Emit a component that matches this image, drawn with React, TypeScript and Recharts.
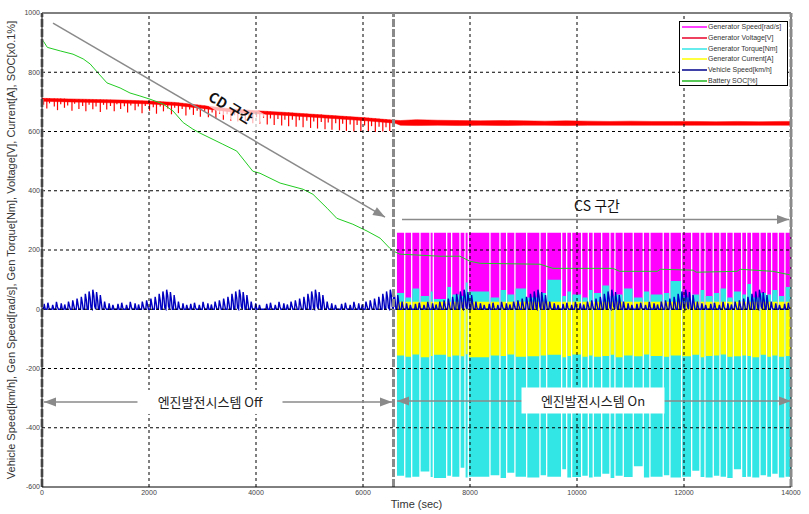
import React from 'react';
import { ComposedChart, Area, Line, Scatter, ErrorBar, XAxis, YAxis, ReferenceLine, ReferenceDot } from 'recharts';

// ---------- axis ticks ----------
const xTicks = [0, 2000, 4000, 6000, 8000, 10000, 12000, 14000];
const yTicks = [-600, -400, -200, 0, 200, 400, 600, 800, 1000];
const gridX = [2000, 4000, 6000, 8000, 10000, 12000];
const gridY = [-400, -200, 0, 200, 400, 600, 800];

// ---------- battery SOC [x0.1%] (time, value) ----------
const socPoints = [
  [0, 912], [100, 884], [340, 872], [580, 861], [770, 845], [900, 828], [1050, 797], [1215, 764],
  [1460, 747], [1645, 730], [1830, 720], [2020, 709], [2260, 693], [2450, 669], [2640, 630],
  [2820, 608], [2950, 595], [3380, 557], [3640, 534], [3940, 466], [4075, 459], [4450, 426],
  [4880, 405], [5065, 388], [5330, 341], [5510, 307], [5810, 287], [6075, 264], [6320, 240],
  [6500, 206], [6570, 196], [6690, 186], [7440, 179], [7810, 179], [8000, 162], [8190, 155],
  [9310, 152], [9550, 138], [10670, 138], [10800, 128], [11500, 128], [11560, 135], [12170, 132],
  [12230, 125], [12990, 128], [13050, 135], [13660, 128], [13930, 118], [14000, 116],
];

// ---------- generator voltage: solid band (time, upper, lower) ----------
const voltageBand = [
  [0, 712, 702], [500, 710, 700], [1000, 708, 698], [1500, 706, 696], [2000, 703, 693], [2500, 698, 688],
  [3000, 688, 678], [3500, 677, 667], [4000, 670, 660], [4500, 665, 655], [5000, 659, 649], [5500, 653, 643],
  [6000, 647, 637], [6600, 638, 628],
  [6700, 637, 621], [7000, 640, 620], [7400, 638, 621], [7800, 637, 620], [8200, 636, 621], [8600, 637, 620],
  [9000, 636, 621], [9400, 635, 621], [9800, 636, 620], [10200, 635, 621], [10600, 634, 621], [11000, 635, 621],
  [11400, 634, 621], [11800, 634, 621], [12200, 634, 621], [12600, 633, 621], [13000, 634, 621], [13400, 633, 621],
  [13800, 634, 621], [14000, 634, 621],
];
// ---------- generator voltage: downward spikes in CD zone (time, top, low) ----------
const voltageSpikes = [
  [30, 712, 690], [90, 712, 678], [140, 712, 695], [230, 711, 684], [290, 711, 672], [350, 711, 692],
  [420, 711, 680], [480, 710, 688], [560, 710, 670], [610, 710, 694], [690, 710, 676], [760, 709, 686],
  [820, 709, 668], [880, 709, 690], [950, 708, 675], [1010, 708, 684], [1090, 708, 666], [1150, 707, 690],
  [1210, 707, 674], [1280, 707, 686], [1350, 706, 668], [1400, 706, 692], [1470, 706, 676], [1540, 705, 685],
  [1600, 705, 664], [1660, 705, 688], [1740, 704, 672], [1800, 704, 684], [1870, 704, 662], [1930, 703, 686],
  [2010, 703, 670], [2080, 702, 682], [2140, 702, 660], [2210, 701, 684], [2270, 700, 668], [2350, 700, 678],
  [2420, 699, 658], [2480, 698, 680], [2550, 697, 662], [2620, 696, 676], [2690, 694, 654], [2760, 693, 674],
  [2830, 691, 656], [2900, 690, 670], [2960, 689, 650], [3040, 687, 668], [3110, 685, 648], [3180, 683, 664],
  [3250, 682, 644], [3320, 680, 660], [3390, 678, 640], [3460, 677, 658], [3530, 676, 636], [3600, 675, 655],
  [3660, 674, 634], [3740, 673, 652], [3800, 672, 630], [3870, 671, 650], [3940, 670, 628], [4010, 670, 648],
  [4070, 669, 626], [4140, 668, 646], [4210, 668, 624], [4270, 667, 644], [4340, 666, 622], [4410, 666, 642],
  [4480, 665, 620], [4540, 664, 640], [4610, 664, 618], [4680, 663, 640], [4750, 662, 616], [4810, 661, 638],
  [4880, 660, 614], [4950, 660, 636], [5020, 659, 612], [5080, 658, 634], [5150, 657, 610], [5220, 657, 632],
  [5290, 656, 608], [5350, 655, 630], [5420, 654, 606], [5490, 653, 628], [5560, 652, 604], [5620, 652, 626],
  [5690, 651, 602], [5760, 650, 624], [5830, 649, 600], [5890, 648, 622], [5960, 647, 600], [6030, 647, 620],
  [6100, 646, 598], [6160, 645, 618], [6230, 644, 598], [6300, 643, 616], [6370, 642, 600], [6430, 641, 614],
  [6500, 640, 602],
];

// ---------- vehicle speed: one repeated driving cycle (offset s, km/h) ----------
const cycleProfile = [
  [0, 0], [25, 0], [40, 18], [60, 0], [95, 0], [110, 22], [130, 5], [145, 0], [185, 0], [200, 15], [220, 0],
  [255, 0], [270, 25], [290, 8], [305, 0], [345, 0], [360, 20], [380, 0], [410, 0], [425, 16], [445, 0],
  [480, 0], [495, 26], [515, 10], [530, 0], [560, 0], [575, 30], [595, 12], [610, 0], [640, 0], [655, 36],
  [675, 15], [690, 0], [720, 0], [735, 42], [755, 20], [770, 0], [795, 0], [810, 52], [830, 30], [845, 0],
  [865, 0], [880, 60], [900, 38], [915, 5], [935, 0], [950, 66], [970, 45], [985, 10], [1005, 0], [1020, 58],
  [1040, 30], [1055, 0], [1075, 0], [1090, 48], [1110, 20], [1125, 0], [1155, 0], [1170, 26], [1190, 5],
  [1205, 0], [1240, 0], [1255, 20], [1275, 0], [1310, 0], [1325, 15], [1345, 0], [1379, 0],
];
const cycleStarts = [0, 1380, 2740, 4160, 5560, 6940, 8320, 9700, 11080, 12460, 13840];

// ---------- CS zone (engine generator on) ----------
const csStart = 6635;
const csEnd = 14000;
const engineOffTimes = [
  6780, 6910, 7065, 7252, 7314, 7564, 7657, 7813, 7906, 7968, 8373, 8560, 8685, 8840, 9059, 9308,
  9433, 9713, 9807, 9900, 10087, 10212, 10304, 10461, 10616, 10709, 10865, 11052, 11239, 11363, 11612,
  11737, 11955, 12143, 12298, 12392, 12547, 12672, 12797, 12921, 13077, 13171, 13264, 13419, 13544,
  13638, 13762, 13887,
];
const genSpeedOn = 258;
const currentTopOn = 25;
const torqueTopSeg = [
  55, 40, 70, 45, 60, 35, 75, 50, 45, 90, 60, 40, 65, 50, 70, 40, 55, 100, 45, 60, 50, 40, 65, 55, 80,
  45, 50, 70, 40, 60, 50, 55, 95, 40, 50, 65, 45, 55, 70, 40, 60, 50, 85, 40, 55, 50, 65, 45, 75,
];
const torqueBotSeg = [
  -562, -568, -565, -548, -566, -570, -562, -565, -535, -568, -565, -560, -570, -552, -565, -568, -560,
  -565, -540, -568, -566, -562, -568, -565, -555, -570, -562, -566, -530, -568, -565, -560, -568, -565,
  -545, -566, -568, -562, -565, -570, -540, -566, -565, -568, -560, -565, -555, -568, -565,
];
const currentBotSeg = [
  -156, -160, -153, -162, -158, -154, -160, -156, -159, -152, -162, -156, -158, -153, -160, -159, -156,
  -154, -162, -158, -153, -160, -156, -160, -158, -154, -162, -156, -159, -153, -158, -160, -156, -159,
  -154, -162, -158, -156, -153, -160, -159, -156, -158, -162, -154, -160, -156, -160, -158,
];

const legendItems = [
  ['Generator Speed[rad/s]', '#FF00FF'],
  ['Generator Voltage[V]', '#E8002A'],
  ['Generator Torque[Nm]', '#33E6E6'],
  ['Generator Current[A]', '#FFFF00'],
  ['Vehicle Speed[km/h]', '#00008C'],
  ['Battery SOC[%]', '#22B822'],
];

// ---------- build series tables ----------
const socData = socPoints.map(([t, v]) => ({ t, v }));
const voltData = voltageBand.map(([t, hi, lo]) => ({ t, volt: [lo, hi] }));
const spikeData = voltageSpikes.map(([t, top, low]) => ({ t, top, err: [top - low, 0] }));
const speedData: { t: number; v: number }[] = [];
cycleStarts.forEach((s) => {
  cycleProfile.forEach(([o, v]) => {
    if (s + o <= 14000) speedData.push({ t: s + o, v });
  });
});

const GAP = 12;
const csData: any[] = [];
const off = { gen: [0, 0], tq: [0, 0], cur: [0, 0] };
csData.push({ t: csStart, ...off });
const bounds = [csStart, ...engineOffTimes, csEnd];
for (let i = 0; i < bounds.length - 1; i++) {
  const s = i === 0 ? csStart : bounds[i] + GAP;
  const e = i === bounds.length - 2 ? csEnd : bounds[i + 1] - GAP;
  const on = {
    gen: [0, genSpeedOn],
    tq: [torqueBotSeg[i], torqueTopSeg[i]],
    cur: [currentBotSeg[i], currentTopOn],
  };
  csData.push({ t: s, ...on });
  csData.push({ t: e, ...on });
  if (i < bounds.length - 2) {
    csData.push({ t: e, ...off });
    csData.push({ t: bounds[i + 1] + GAP, ...off });
  }
}

const GRAY = '#8a8a8a';
const KFONT = "'Noto Sans CJK KR', 'Noto Sans', sans-serif";
const AFONT = "'Liberation Sans', Arial, sans-serif";

function arrowShape(both: boolean) {
  return (p: any) => {
    const { x1, y1, x2, y2 } = p;
    const a = Math.atan2(y2 - y1, x2 - x1);
    const L = 12;
    const W = 4.5;
    const head = (x: number, y: number, ang: number) => {
      const bx = x - L * Math.cos(ang);
      const by = y - L * Math.sin(ang);
      const px = -Math.sin(ang) * W;
      const py = Math.cos(ang) * W;
      return `${x},${y} ${bx + px},${by + py} ${bx - px},${by - py}`;
    };
    return (
      <g>
        <line x1={x1} y1={y1} x2={x2} y2={y2} stroke={GRAY} strokeWidth={1.5} />
        <polygon points={head(x2, y2, a)} fill={GRAY} />
        {both ? <polygon points={head(x1, y1, a + Math.PI)} fill={GRAY} /> : null}
      </g>
    );
  };
}

function boxLabel(text: string, w: number, h: number, size: number) {
  return (p: any) => (
    <g>
      <rect x={p.cx - w / 2} y={p.cy - h / 2} width={w} height={h} fill="#fff" />
      <text x={p.cx} y={p.cy} textAnchor="middle" dominantBaseline="central" fontSize={size} fontFamily={KFONT} fill="#222">
        {text}
      </text>
    </g>
  );
}

const cdLabel = (p: any) => (
  <g transform={`rotate(31, ${p.cx}, ${p.cy})`}>
    <rect x={p.cx - 33} y={p.cy - 11} width={66} height={22} fill="#fff" fillOpacity={0.7} />
    <text x={p.cx} y={p.cy} textAnchor="middle" dominantBaseline="central" fontSize={14} fontWeight="bold" fontFamily={KFONT} fill="#111">
      CD 구간
    </text>
  </g>
);

const csLabel = (p: any) => (
  <text x={p.cx} y={p.cy} textAnchor="middle" dominantBaseline="central" fontSize={14} fontFamily={KFONT} fill="#111">
    CS 구간
  </text>
);

const yLabel = (p: any) => {
  const vb = p.viewBox || {};
  const cy = (vb.y ?? 13) + (vb.height ?? 474) / 2;
  const cx = 11;
  return (
    <text x={cx} y={cy} transform={`rotate(-90, ${cx}, ${cy})`} textAnchor="middle" dominantBaseline="central" fontSize={11} fontFamily={AFONT} fill="#333">
      Vehicle Speed[km/h], Gen Speed[rad/s], Gen Torque[Nm], Voltage[V], Current[A], SOC[x0.1%]
    </text>
  );
};

const noDot = () => <g />;

export default function App() {
  return (
    <div style={{ position: 'absolute', left: 0, top: 0, width: 809, height: 514, background: '#fff' }}>
      <ComposedChart width={809} height={514} margin={{ top: 13, right: 18, bottom: 0, left: 0 }}>
        <XAxis
          type="number"
          dataKey="t"
          domain={[0, 14000]}
          ticks={xTicks}
          allowDataOverflow
          height={27}
          tickLine={false}
          tickSize={0}
          tickMargin={3}
          axisLine={{ stroke: '#000' }}
          tick={{ fontSize: 7, fill: '#444', fontFamily: AFONT }}
          label={{ value: 'Time (sec)', position: 'insideBottom', offset: 6, fontSize: 11, fill: '#333', fontFamily: AFONT }}
        />
        <YAxis
          type="number"
          domain={[-600, 1000]}
          ticks={yTicks}
          allowDataOverflow
          width={42}
          tickLine={false}
          tickSize={0}
          tickMargin={2}
          axisLine={{ stroke: '#000' }}
          tick={{ fontSize: 7, fill: '#444', fontFamily: AFONT }}
          label={{ content: yLabel }}
        />
        <Area data={csData} dataKey="gen" type="linear" fill="#FF00FF" fillOpacity={1} stroke="none" isAnimationActive={false} />
        <Area data={voltData} dataKey="volt" type="linear" fill="#FF0000" fillOpacity={1} stroke="#FF0000" strokeWidth={0.5} isAnimationActive={false} />
        <Scatter data={spikeData} dataKey="top" shape={noDot} isAnimationActive={false}>
          <ErrorBar dataKey="err" direction="y" width={0} stroke="#FF0000" strokeWidth={1.2} isAnimationActive={false} />
        </Scatter>
        <Area data={csData} dataKey="tq" type="linear" fill="#33E6E6" fillOpacity={1} stroke="none" isAnimationActive={false} />
        <Area data={csData} dataKey="cur" type="linear" fill="#FFFF00" fillOpacity={1} stroke="none" isAnimationActive={false} />
        <Line data={speedData} dataKey="v" type="linear" stroke="#0000C0" strokeWidth={1.4} dot={false} isAnimationActive={false} />
        <Line data={socData} dataKey="v" type="linear" stroke="#22CC22" strokeWidth={1} dot={false} isAnimationActive={false} />

        {gridX.map((x) => (
          <ReferenceLine key={'gx' + x} x={x} stroke="#000" strokeWidth={1} strokeDasharray="3 3" />
        ))}
        {gridY.map((y) => (
          <ReferenceLine key={'gy' + y} y={y} stroke="#000" strokeWidth={1} strokeDasharray="3 3" />
        ))}
        <ReferenceLine y={1000} stroke="#000" strokeWidth={1} />
        <ReferenceLine x={14000} stroke="#000" strokeWidth={1} />

        <ReferenceLine x={0} stroke={GRAY} strokeWidth={3} strokeDasharray="8 2" />
        <ReferenceLine x={6570} stroke={GRAY} strokeWidth={3} strokeDasharray="8 2" />
        <ReferenceLine x={14000} stroke={GRAY} strokeWidth={3} strokeDasharray="8 2" />

        <ReferenceLine segment={[{ x: 206, y: 966 }, { x: 6411, y: 311 }]} shape={arrowShape(false)} />
        <ReferenceLine segment={[{ x: 6729, y: 303 }, { x: 13963, y: 303 }]} shape={arrowShape(false)} />
        <ReferenceLine segment={[{ x: 37, y: -313 }, { x: 6542, y: -313 }]} shape={arrowShape(true)} />
        <ReferenceLine segment={[{ x: 6636, y: -310 }, { x: 14000, y: -310 }]} shape={arrowShape(true)} />

        <ReferenceDot x={3532} y={683} r={0} shape={cdLabel} />
        <ReferenceDot x={10374} y={352} r={0} shape={csLabel} />
        <ReferenceDot x={3140} y={-313} r={0} shape={boxLabel('엔진발전시스템 Off', 145, 24, 13)} />
        <ReferenceDot x={10299} y={-308} r={0} shape={boxLabel('엔진발전시스템 On', 143, 26, 13)} />
      </ComposedChart>
      <div
        style={{
          position: 'absolute', left: 679, top: 21, width: 109, height: 65, border: '1px solid #000',
          background: '#fff', boxSizing: 'border-box', fontFamily: AFONT, fontSize: 7, color: '#333',
        }}
      >
        {legendItems.map(([name, color], i) => (
          <div key={name} style={{ position: 'absolute', left: 2, top: i * 10.8, height: 10, display: 'flex', alignItems: 'center', whiteSpace: 'nowrap' }}>
            <svg width={25} height={4} style={{ display: 'block', flex: 'none' }}>
              <line x1={0} y1={2} x2={25} y2={2} stroke={color} strokeWidth={1.5} />
            </svg>
            <span style={{ marginLeft: 1, lineHeight: '10px' }}>{name}</span>
          </div>
        ))}
      </div>
    </div>
  );
}
